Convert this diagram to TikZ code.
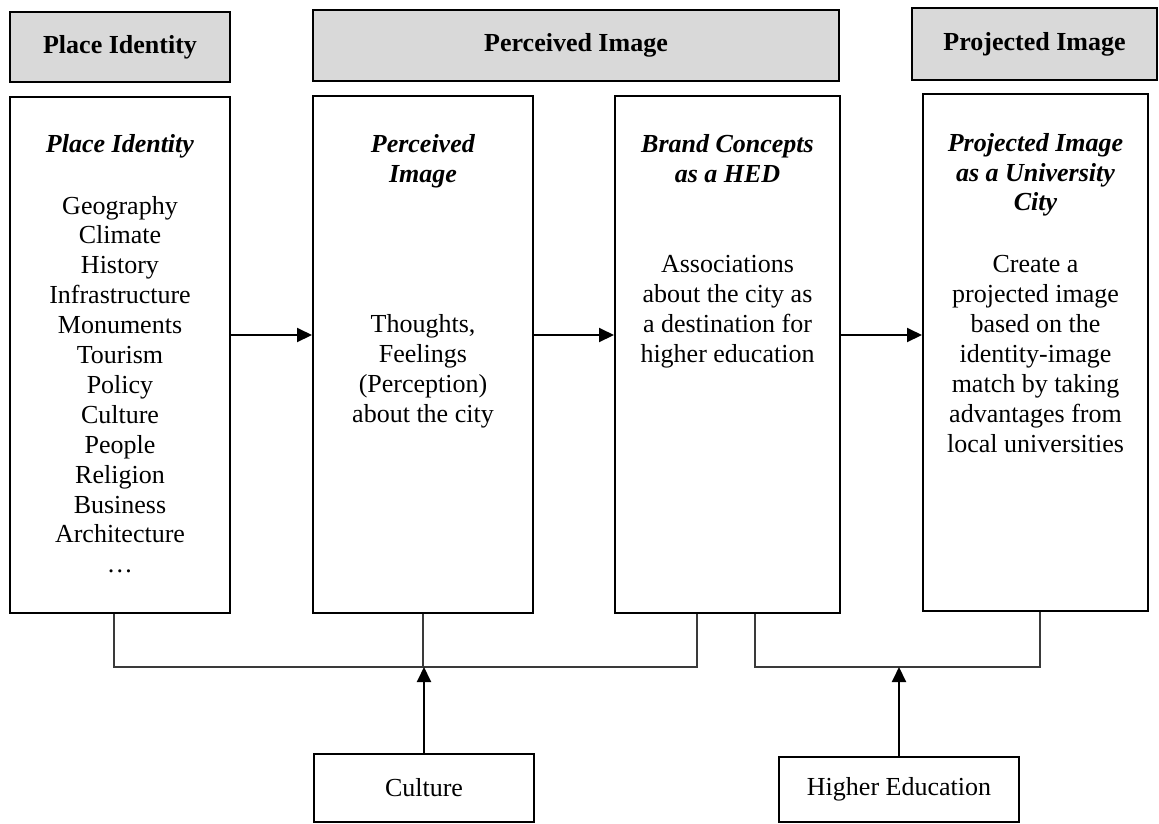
\documentclass[tikz,border=0pt]{standalone}
\usepackage{fontspec}
\setmainfont{Liberation Serif}
\usetikzlibrary{arrows.meta}
\definecolor{headgray}{HTML}{D9D9D9}
\definecolor{linkgray}{HTML}{3A3A3A}
\begin{document}
\begin{tikzpicture}[x=1pt,y=-1pt,
  txt/.style={font=\fontsize{26}{29.9}\selectfont},
  header/.style={txt, draw, line width=2pt, fill=headgray, font=\fontsize{26}{29.9}\selectfont\bfseries, inner sep=0pt},
  panel/.style={draw, line width=2pt, inner sep=0pt},
  body/.style={txt, align=center, inner sep=0pt, anchor=north},
  factor/.style={txt, draw, line width=2pt, inner sep=0pt, fill=white},
  flow/.style={line width=2pt, -{Triangle[length=15pt,width=14pt]}},
  link/.style={line width=1.3pt, draw=linkgray}
]
\fill[white] (0,0) rectangle (1159,823);
\useasboundingbox (0,0) rectangle (1159,823);

% column headers
\node[header, minimum width=220pt, minimum height=70pt] (h1) at (120,47) {Place Identity};
\node[header, minimum width=526pt, minimum height=71pt] (h2) at (576,45.5) {Perceived Image};
\node[header, minimum width=245pt, minimum height=72pt] (h3) at (1034.5,44) {Projected Image};

% stage panels
\node[panel, minimum width=220pt, minimum height=516pt] (b1) at (120,355) {};
\node[panel, minimum width=220pt, minimum height=517pt] (b2) at (423,354.5) {};
\node[panel, minimum width=225pt, minimum height=517pt] (b3) at (727.5,354.5) {};
\node[panel, minimum width=225pt, minimum height=517pt] (b4) at (1035.5,352.5) {};

% panel texts
\node[body] (t1) at (120,131) {\strut\textbf{\textit{Place Identity}}\\[32pt]
  Geography\\Climate\\History\\Infrastructure\\Monuments\\Tourism\\Policy\\
  Culture\\People\\Religion\\Business\\Architecture\\…};
\node[body] (t2) at (423,131) {\strut\textbf{\textit{Perceived}}\\\textbf{\textit{Image}}\\[121pt]
  Thoughts,\\Feelings\\(Perception)\\about the city};
\node[body] (t3) at (727.5,131) {\strut\textbf{\textit{Brand Concepts}}\\\textbf{\textit{as a HED}}\\[61pt]
  Associations\\about the city as\\a destination for\\higher education};
\node[body] (t4) at (1035.5,130) {\strut\textbf{\textit{Projected Image}}\\\textbf{\textit{as a University}}\\\textbf{\textit{City}}\\[32pt]
  Create a\\projected image\\based on the\\identity-image\\match by taking\\advantages from\\local universities};

% influencing factors
\node[factor, minimum width=220pt, minimum height=68pt] (cul) at (424,788) {Culture};
\node[factor, minimum width=240pt, minimum height=65pt] (he) at (899,789.5) {Higher Education};

% flow between stages
\coordinate (ay) at (0,335);
\draw[flow] (b1.east |- ay) -- (b2.west |- ay);
\draw[flow] (b2.east |- ay) -- (b3.west |- ay);
\draw[flow] (b3.east |- ay) -- (b4.west |- ay);

% brackets collecting the stages
\coordinate (lb) at (424,667);
\coordinate (rb) at (899,667);
\draw[link] ([xshift=-6pt]b1.south) -- ([xshift=-6pt]b1.south |- lb) -- ([xshift=-30.5pt]b3.south |- lb) -- ([xshift=-30.5pt]b3.south);
\draw[link] (b2.south) -- (b2.south |- lb);
\draw[link] ([xshift=27.5pt]b3.south) -- ([xshift=27.5pt]b3.south |- rb) -- ([xshift=4.5pt]b4.south |- rb) -- ([xshift=4.5pt]b4.south);

% factor arrows
\draw[flow] (cul.north) -- (cul.north |- lb);
\draw[flow] (he.north) -- (he.north |- rb);
\end{tikzpicture}
\end{document}
